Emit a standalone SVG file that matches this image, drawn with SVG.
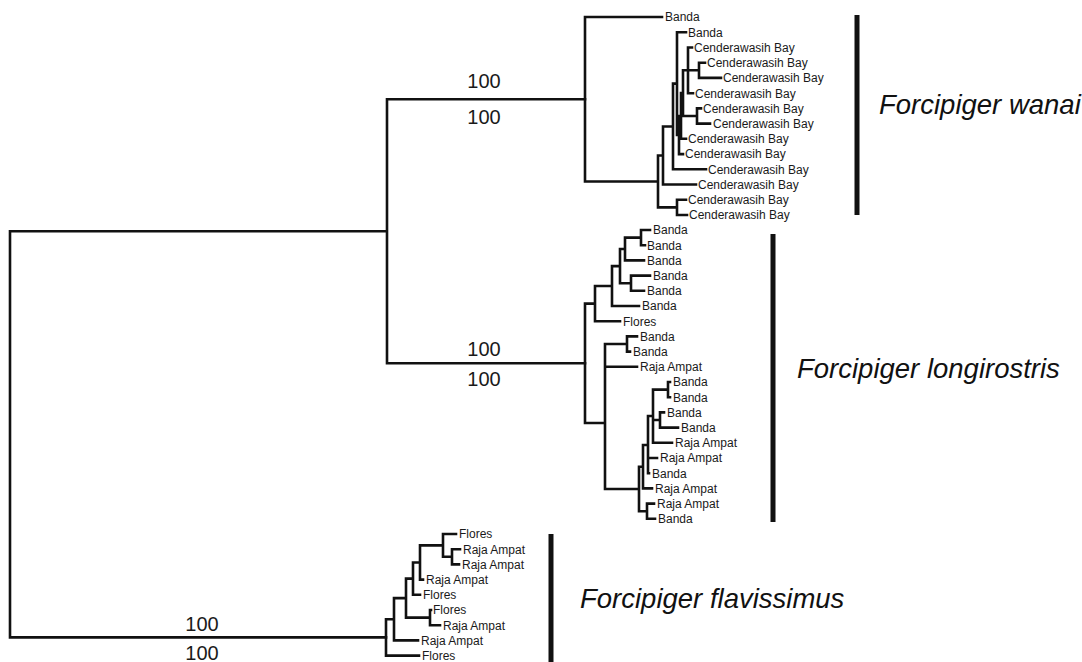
<svg xmlns="http://www.w3.org/2000/svg" width="1082" height="662" viewBox="0 0 1082 662">
<style>
.br{fill:none;stroke:#111;stroke-width:2.6;stroke-linecap:square}
.lf{font-family:"Liberation Sans",Arial,sans-serif;font-size:12px;fill:#1a1a1a}
.bs{font-family:"Liberation Sans",Arial,sans-serif;font-size:20px;fill:#1a1a1a;text-anchor:middle}
.sp{font-family:"Liberation Sans",Arial,sans-serif;font-size:27.5px;font-style:italic;fill:#111}
.bar{stroke:#111;stroke-width:5}
</style>
<rect width="1082" height="662" fill="#fff"/>

<!-- tree branches -->
<g id="connectors" class="br">
<!-- backbone -->
<path d="M10 231.2V637.4M10 231.2H387M10 637.4H386M387 99.2V363.3M387 99.2H585M387 363.3H585"/>
<!-- F. wanai -->
<path d="M585 17V181.5M585 17H662M585 181.5H658
M658 155.5V207.4M658 155.5H663M658 207.4H677
M677 199.8V215M677 199.8H686M677 215H687
M663 126.5V184.5M663 184.5H696M663 126.5H673
M673 83.6V169.3M673 169.3H706M673 83.6H677
M677 32.2V135M677 32.2H686M677 135H679
M679 116V154.1M679 154.1H683M679 116H681
M681 93V138.8M681 138.8H686M681 93H683
M683 70.3V116M683 70.3H688M683 116H697
M688 47.5V93.2M688 47.5H692M688 93.2H693M688 70.3H699
M699 62.7V77.9M699 62.7H705M699 77.9H721
M697 108.4V123.6M697 108.4H701M697 123.6H710"/>
<!-- F. longirostris -->
<path d="M585 303.6V423M585 303.6H595M585 423H605
M595 286V321.2M595 321.2H620M595 286H612
M612 266.1V306M612 306H639M612 266.1H620
M620 249V283.2M620 249H625M620 283.2H631
M625 237.6V260.4M625 260.4H644M625 237.6H641
M641 230V245.2M641 230H650M641 245.2H645
M631 275.6V290.8M631 275.6H650M631 290.8H644
M605 344V489M605 344H627M605 366.8H637M605 489H639
M627 336.4V351.6M627 336.4H637M627 351.6H630
M639 466.7V511.2M639 466.7H643M639 511.2H647
M647 503.6V518.8M647 503.6H654M647 518.8H655
M643 445V488.4M643 488.4H652M643 445H648
M648 416V473.2M648 458H657M648 473.2H649M648 416H653
M653 389.6V442.8M653 442.8H672M653 389.6H668M653 420H660
M668 382V397.2M668 382H670M668 397.2H670
M660 412.4V427.6M660 412.4H664M660 427.6H678"/>
<!-- F. flavissimus -->
<path d="M386 619.3V655.6M386 655.6H419M386 619.3H394
M394 598.1V640.4M394 640.4H418M394 598.1H406
M406 578.6V617.6M406 578.6H413M406 617.6H430
M430 610V625.2M430 610H431M430 625.2H440
M413 562.5V594.8M413 594.8H420M413 562.5H420
M420 545.4V579.6M420 579.6H423M420 545.4H443
M443 534V556.8M443 534H456M443 556.8H452
M452 549.2V564.4M452 549.2H460M452 564.4H459"/>
</g>

<!-- bootstrap support -->
<g id="support" class="bs">
<text x="484" y="88">100</text>
<text x="484" y="124">100</text>
<text x="484" y="356">100</text>
<text x="484" y="386">100</text>
<text x="202" y="631">100</text>
<text x="202" y="660">100</text>
</g>

<!-- F. wanai tips -->
<g id="tips-wanai" class="lf">
<text x="665" y="21.3">Banda</text>
<text x="688" y="36.5">Banda</text>
<text x="694" y="51.8">Cenderawasih Bay</text>
<text x="707" y="67">Cenderawasih Bay</text>
<text x="723" y="82.2">Cenderawasih Bay</text>
<text x="695" y="97.5">Cenderawasih Bay</text>
<text x="703" y="112.7">Cenderawasih Bay</text>
<text x="713" y="127.9">Cenderawasih Bay</text>
<text x="688" y="143.1">Cenderawasih Bay</text>
<text x="685" y="158.4">Cenderawasih Bay</text>
<text x="708" y="173.6">Cenderawasih Bay</text>
<text x="698" y="188.8">Cenderawasih Bay</text>
<text x="688" y="204.1">Cenderawasih Bay</text>
<text x="689" y="219.3">Cenderawasih Bay</text>
</g>

<!-- F. longirostris tips -->
<g id="tips-longirostris" class="lf">
<text x="653" y="234.3">Banda</text>
<text x="647" y="249.5">Banda</text>
<text x="647" y="264.7">Banda</text>
<text x="653" y="279.9">Banda</text>
<text x="647" y="295.1">Banda</text>
<text x="642" y="310.3">Banda</text>
<text x="623" y="325.5">Flores</text>
<text x="640" y="340.7">Banda</text>
<text x="633" y="355.9">Banda</text>
<text x="640" y="371.1">Raja Ampat</text>
<text x="673" y="386.3">Banda</text>
<text x="673" y="401.5">Banda</text>
<text x="667" y="416.7">Banda</text>
<text x="681" y="431.9">Banda</text>
<text x="675" y="447.1">Raja Ampat</text>
<text x="660" y="462.3">Raja Ampat</text>
<text x="652" y="477.5">Banda</text>
<text x="655" y="492.7">Raja Ampat</text>
<text x="657" y="507.9">Raja Ampat</text>
<text x="658" y="523.1">Banda</text>
</g>

<!-- F. flavissimus tips -->
<g id="tips-flavissimus" class="lf">
<text x="459" y="538.3">Flores</text>
<text x="463" y="553.5">Raja Ampat</text>
<text x="462" y="568.7">Raja Ampat</text>
<text x="426" y="583.9">Raja Ampat</text>
<text x="423" y="599.1">Flores</text>
<text x="433" y="614.3">Flores</text>
<text x="443" y="629.5">Raja Ampat</text>
<text x="421" y="644.7">Raja Ampat</text>
<text x="422" y="659.9">Flores</text>
</g>

<!-- clade brackets and names -->
<g id="clade-wanai">
<line class="bar" x1="857" y1="15" x2="857" y2="215"/>
<text class="sp" x="879" y="114">Forcipiger wanai</text>
</g>
<g id="clade-longirostris">
<line class="bar" x1="773" y1="234" x2="773" y2="522"/>
<text class="sp" x="797" y="378">Forcipiger longirostris</text>
</g>
<g id="clade-flavissimus">
<line class="bar" x1="551" y1="534" x2="551" y2="662"/>
<text class="sp" x="580" y="608">Forcipiger flavissimus</text>
</g>
</svg>
